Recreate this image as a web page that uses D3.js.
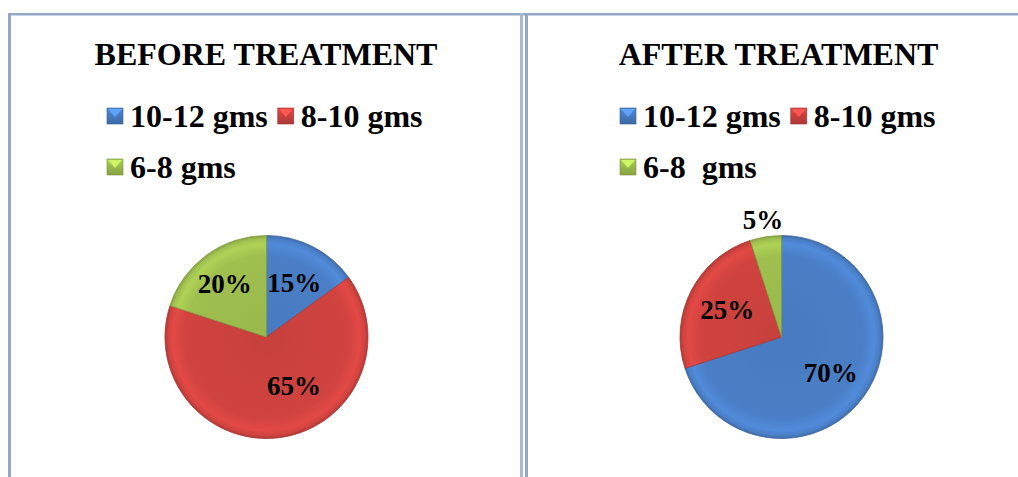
<!DOCTYPE html>
<html>
<head>
<meta charset="utf-8">
<script src="https://cdn.jsdelivr.net/npm/d3@7"></script>
<style>
  html, body { margin: 0; padding: 0; background: #fff; }
  svg { display: block; }
  text { font-family: "Liberation Serif", "Times New Roman", serif; font-weight: bold; fill: #000; }
</style>
</head>
<body>
<svg id="chart" width="1018" height="477"></svg>
<script>
// Haemoglobin groups and their share of patients, before and after treatment
const categories = ["10-12 gms", "8-10 gms", "6-8 gms"];
const legendLabelsBefore = ["10-12 gms", "8-10 gms", "6-8 gms"];
const legendLabelsAfter = ["10-12 gms", "8-10 gms", "6-8  gms"];
const beforeValues = [15, 65, 20];
const afterValues = [70, 25, 5];
const titles = ["BEFORE TREATMENT", "AFTER TREATMENT"];

const colors = ["#4a7fc7", "#d0433f", "#9fc04f"];

const svg = d3.select("#chart");
const defs = svg.append("defs");

// frame lines of the two panels
const frameColor = "#93a7c6";
svg.append("rect").attr("x", 8).attr("y", 13).attr("width", 1010).attr("height", 2.5).attr("fill", frameColor);
svg.append("rect").attr("x", 8).attr("y", 13).attr("width", 3).attr("height", 464).attr("fill", frameColor);
svg.append("rect").attr("x", 520).attr("y", 13).attr("width", 3).attr("height", 464).attr("fill", "#a9b9d2");
svg.append("rect").attr("x", 525).attr("y", 13).attr("width", 3).attr("height", 464).attr("fill", frameColor);

// bevelled fills for the slices
function shade(c, k) { return d3.color(c).brighter(k).formatHex(); }
function dark(c, k) { return d3.color(c).darker(k).formatHex(); }

const panels = [
  { title: titles[0], values: beforeValues, legend: legendLabelsBefore, cx: 266.5, cy: 337, titleX: 266,
    legendX: 107, labelNudge: [[0, 0], [18, -12], [-6, -4]] },
  { title: titles[1], values: afterValues, legend: legendLabelsAfter, cx: 781.5, cy: 337, titleX: 778.5,
    legendX: 620, labelNudge: [[0, 0], [0, 0], [0, 0]] }
];

const radius = 101.5;
const pie = d3.pie().sort(null).value(d => d);
const arc = d3.arc().innerRadius(0).outerRadius(radius);

panels.forEach((p, pi) => {
  const g = svg.append("g");

  g.append("text").attr("x", p.titleX).attr("y", 65).attr("text-anchor", "middle")
    .style("font-size", "32px").text(p.title);

  // legend
  const legend = g.append("g");
  let x = p.legendX;
  p.legend.forEach((lab, i) => {
    const row = i < 2 ? 0 : 1;
    if (i === 2) x = p.legendX;
    const y = row === 0 ? 108 : 159;
    const item = legend.append("g");
    const gid = `leg${pi}_${i}`;
    const lg = defs.append("linearGradient").attr("id", gid).attr("x1", 0).attr("y1", 0).attr("x2", 0).attr("y2", 1);
    lg.append("stop").attr("offset", "0%").attr("stop-color", shade(colors[i], 0.2));
    lg.append("stop").attr("offset", "100%").attr("stop-color", dark(colors[i], 0.5));
    item.append("rect").attr("x", x).attr("y", y).attr("width", 16).attr("height", 16)
      .attr("fill", `url(#${gid})`).attr("stroke", dark(colors[i], 0.8)).attr("stroke-width", 0.6);
    item.append("path")
      .attr("d", `M${x + 1},${y + 1}L${x + 15},${y + 1}L${x + 8},${y + 9}Z`)
      .attr("fill", shade(colors[i], 0.7));
    const t = item.append("text").attr("x", x + 23).attr("y", y + 19)
      .attr("xml:space", "preserve").style("white-space", "pre")
      .style("font-size", "32px").text(lab);
    x = x + 23 + t.node().getComputedTextLength() + 10;
  });

  // pie
  const pg = g.append("g").attr("transform", `translate(${p.cx},${p.cy})`);
  const arcs = pie(p.values);
  arcs.forEach((a, i) => {
    const gid = `pie${pi}_${i}`;
    const rg = defs.append("radialGradient").attr("id", gid)
      .attr("gradientUnits", "userSpaceOnUse").attr("cx", 0).attr("cy", 0).attr("r", radius);
    rg.append("stop").attr("offset", "0%").attr("stop-color", dark(colors[i], 0.12));
    rg.append("stop").attr("offset", "80%").attr("stop-color", colors[i]);
    rg.append("stop").attr("offset", "92%").attr("stop-color", shade(colors[i], 0.25));
    rg.append("stop").attr("offset", "97%").attr("stop-color", colors[i]);
    rg.append("stop").attr("offset", "100%").attr("stop-color", dark(colors[i], 0.5));
    pg.append("path").attr("d", arc(a)).attr("fill", `url(#${gid})`)
      .attr("stroke", dark(colors[i], 0.6)).attr("stroke-width", 0.8).attr("stroke-linejoin", "round");
  });

  // percentage labels
  arcs.forEach((a, i) => {
    const outside = (a.endAngle - a.startAngle) < 0.5;
    const r = outside ? radius * 1.17 : radius * 0.6;
    const mid = (a.startAngle + a.endAngle) / 2;
    const lx = Math.sin(mid) * r + p.labelNudge[i][0];
    const ly = -Math.cos(mid) * r + p.labelNudge[i][1];
    pg.append("text").attr("x", lx).attr("y", ly).attr("dy", "0.35em")
      .attr("text-anchor", "middle").style("font-size", "27px")
      .text(p.values[i] + "%");
  });
});
</script>
</body>
</html>
